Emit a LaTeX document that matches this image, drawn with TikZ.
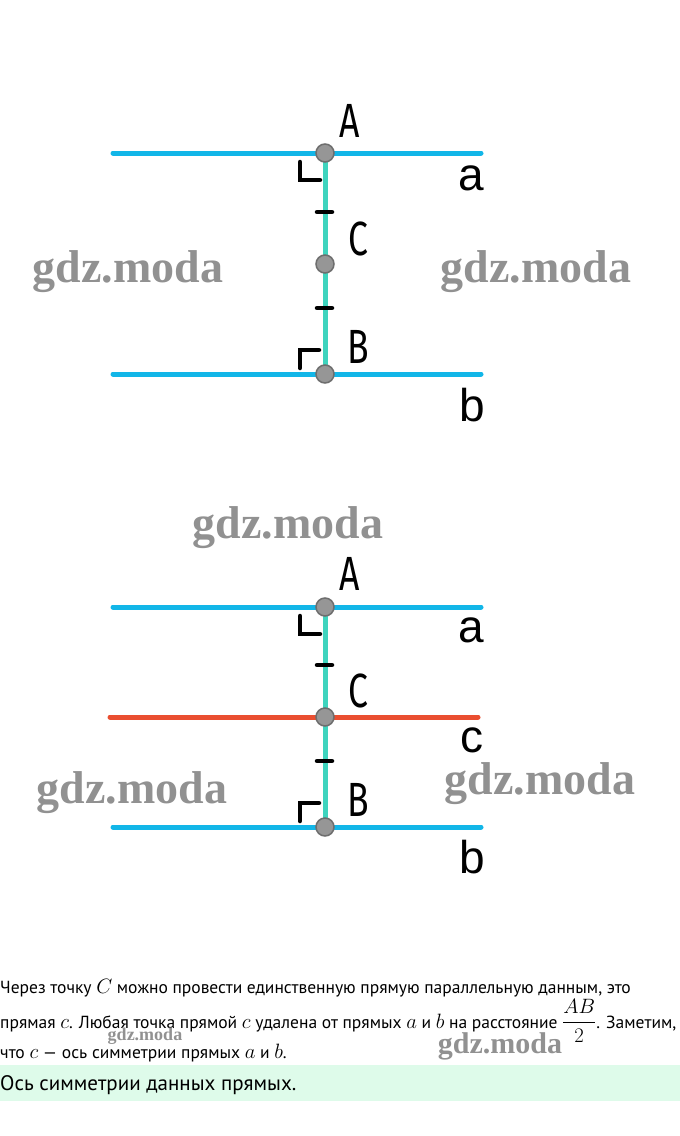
\documentclass[tikz,border=0pt]{standalone}
\usepackage{amsmath}
\usepackage{fontspec}
\setmainfont{PT Sans}
\newfontfamily\lblfont[FakeStretch=0.74]{Fira Sans}
\newfontfamily\lowfont{Liberation Sans}
\newfontfamily\wmfont{Liberation Serif}
\definecolor{cyanline}{RGB}{18,182,232}
\definecolor{tealline}{RGB}{62,212,190}
\definecolor{redline}{RGB}{234,78,48}
\definecolor{ptgray}{RGB}{150,150,150}
\definecolor{ptdark}{RGB}{110,110,110}
\definecolor{wmgray}{RGB}{145,145,145}
\definecolor{bandgreen}{RGB}{222,251,234}
\newcommand\mth[1]{{\fontsize{21}{21}\selectfont$#1$}}
\tikzset{
  parline/.style={cyanline, line width=5pt, line cap=round},
  midline/.style={redline, line width=5pt, line cap=round},
  perp/.style={tealline, line width=5pt},
  tickm/.style={black, line width=4.5pt, line cap=round},
  rangle/.style={black, line width=4.5pt, line cap=round},
  pt/.style={circle, fill=ptgray, draw=ptdark, line width=1.5pt, minimum size=18pt, inner sep=0pt},
  caplbl/.style={font=\lblfont\fontsize{48}{48}\selectfont, anchor=base, inner sep=0pt},
  lowlbl/.style={font=\lowfont\fontsize{46}{46}\selectfont, anchor=base, inner sep=0pt},
  wm/.style={font=\wmfont\bfseries\fontsize{46}{46}\selectfont, text=wmgray, inner sep=0pt},
  wms/.style={font=\wmfont\bfseries\fontsize{18}{18}\selectfont, text=wmgray, inner sep=0pt},
  wmm/.style={font=\wmfont\bfseries\fontsize{30}{30}\selectfont, text=wmgray, inner sep=0pt},
  txt/.style={font=\fontsize{17.5}{17.5}\selectfont, anchor=base west, inner sep=0pt},
}
\begin{document}
\begin{tikzpicture}[x=1pt, y=-1pt]
\useasboundingbox (0,0) rectangle (680,1136);
% ---------- top figure ----------
\coordinate (aL) at (113,153); \coordinate (aR) at (481,153);
\coordinate (bL) at (113,374); \coordinate (bR) at (481,374);
\coordinate (pA) at (325,153); \coordinate (pC) at (325,264); \coordinate (pB) at (325,374);
\draw[parline] (aL) -- (aR);
\draw[parline] (bL) -- (bR);
\draw[perp] (pA) -- (pB);
\draw[rangle] (300,162) -- (300,180) -- (320,180);
\draw[rangle] (300,368) -- (300,350) -- (319,350);
\draw[tickm] (317,212) -- (332,212);
\draw[tickm] (317,308) -- (332,308);
\node[pt] (A) at (pA) {};
\node[pt] (C) at (pC) {};
\node[pt] (B) at (pB) {};
\node[caplbl] (lA) at (350,137) {A};
\node[caplbl] (lC) at (358,255) {C};
\node[caplbl] (lB) at (358,363) {B};
\node[lowlbl] (la) at (471,190) {a};
\node[lowlbl] (lb) at (472,421) {b};
\node[wm] (w1) at (128,272) {gdz.moda};
\node[wm] (w2) at (536,272) {gdz.moda};
% ---------- bottom figure ----------
\coordinate (a2L) at (113,607); \coordinate (a2R) at (481,607);
\coordinate (b2L) at (113,827); \coordinate (b2R) at (481,827);
\coordinate (c2L) at (110,717); \coordinate (c2R) at (478,717);
\coordinate (qA) at (325,607); \coordinate (qC) at (325,717); \coordinate (qB) at (325,827);
\draw[parline] (a2L) -- (a2R);
\draw[parline] (b2L) -- (b2R);
\draw[midline] (c2L) -- (c2R);
\draw[perp] (qA) -- (qB);
\draw[rangle] (300,616) -- (300,634) -- (320,634);
\draw[rangle] (300,821) -- (300,803) -- (319,803);
\draw[tickm] (317,665) -- (332,665);
\draw[tickm] (317,761) -- (332,761);
\node[pt] (A2) at (qA) {};
\node[pt] (C2) at (qC) {};
\node[pt] (B2) at (qB) {};
\node[caplbl] (lA2) at (350,590) {A};
\node[caplbl] (lC2) at (358,707) {C};
\node[caplbl] (lB2) at (358,816) {B};
\node[lowlbl] (la2) at (471,642) {a};
\node[lowlbl] (lc2) at (472,752) {c};
\node[lowlbl] (lb2) at (472,873) {b};
\node[wm] (w3) at (288,528) {gdz.moda};
\node[wm] (w4) at (132,793) {gdz.moda};
\node[wm] (w5) at (540,784) {gdz.moda};
% ---------- text ----------
\node[txt] (t1) at (0,993) {Через точку \mth{C} можно провести единственную прямую параллельную данным, это};
\node[txt] (t2) at (0,1028) {прямая \mth{c}. Любая точка прямой \mth{c} удалена от прямых \mth{a} и \mth{b} на расстояние \mth{\dfrac{AB}{2}}. Заметим,};
\node[txt] (t3) at (0,1058) {что \mth{c} — ось симметрии прямых \mth{a} и \mth{b}.};
\node[wms] (w6) at (145,1036) {gdz.moda};
\node[wmm] (w7) at (500,1046) {gdz.moda};
\fill[bandgreen] (0,1065) rectangle (680,1101);
\node[txt, font=\fontsize{21}{21}\selectfont] (ans) at (0,1090) {Ось симметрии данных прямых.};
\end{tikzpicture}
\end{document}
